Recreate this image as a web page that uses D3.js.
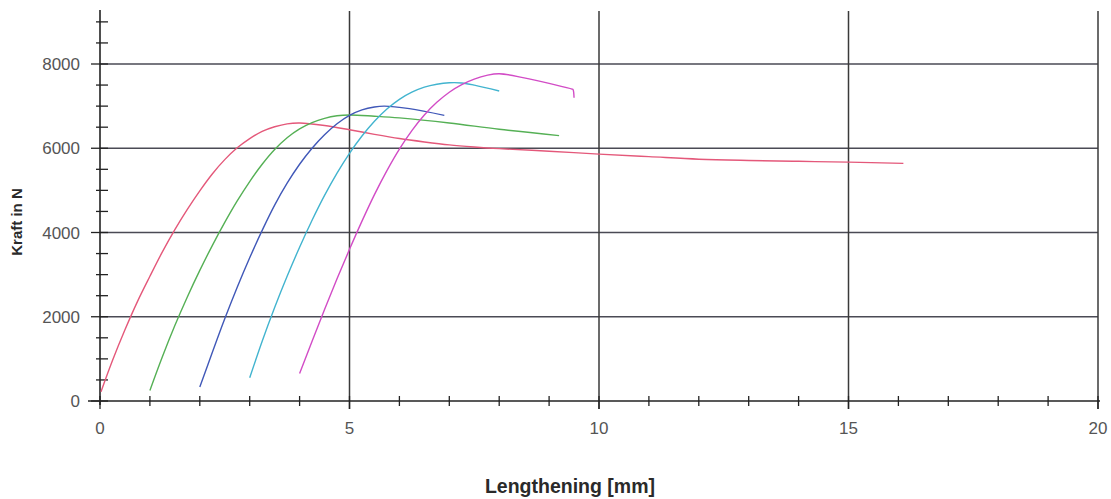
<!DOCTYPE html>
<html><head><meta charset="utf-8">
<script src="https://cdn.jsdelivr.net/npm/d3@7"></script>
<style>body{margin:0;background:#fff;}svg{display:block;}</style>
</head><body>
<svg id="c" width="1111" height="499"></svg>
<script>
const xTicks = [0, 5, 10, 15, 20];
const yTicks = [0, 2000, 4000, 6000, 8000];
const seriesNames = ["red", "green", "blue", "cyan", "magenta"];
const redX = [0.02, 0.25, 0.5, 0.75, 1.0, 1.25, 1.5, 1.75, 2.0, 2.25, 2.5, 2.75, 3.0, 3.25, 3.5, 3.75, 4.0, 4.5, 5, 5.5, 6, 6.5, 7, 7.5, 8, 9, 10, 11, 12, 13, 14, 15, 16.1];
const redY = [220, 960, 1690, 2360, 2960, 3540, 4070, 4550, 4990, 5390, 5730, 6010, 6230, 6400, 6510, 6580, 6600, 6540, 6440, 6330, 6230, 6150, 6080, 6030, 5990, 5930, 5860, 5800, 5740, 5710, 5690, 5670, 5640];
const greenX = [1.0, 1.25, 1.5, 1.75, 2.0, 2.25, 2.5, 2.75, 3.0, 3.25, 3.5, 3.75, 4.0, 4.25, 4.5, 4.75, 5.0, 5.5, 6, 7, 8, 9.2];
const greenY = [250, 1050, 1790, 2470, 3100, 3690, 4240, 4750, 5210, 5620, 5970, 6250, 6460, 6610, 6710, 6770, 6790, 6760, 6720, 6600, 6450, 6300];
const blueX = [2.0, 2.25, 2.5, 2.75, 3.0, 3.25, 3.5, 3.75, 4.0, 4.25, 4.5, 4.75, 5.0, 5.25, 5.5, 5.7, 6.2, 6.9];
const blueY = [330, 1150, 1950, 2700, 3400, 4050, 4650, 5170, 5620, 6000, 6320, 6580, 6780, 6910, 6980, 7000, 6940, 6780];
const cyanX = [3.0, 3.25, 3.5, 3.75, 4.0, 4.25, 4.5, 4.75, 5.0, 5.25, 5.5, 5.75, 6.0, 6.25, 6.5, 6.75, 7.0, 7.25, 7.5, 8.0];
const cyanY = [550, 1420, 2220, 2960, 3650, 4290, 4880, 5410, 5880, 6290, 6640, 6930, 7160, 7330, 7450, 7520, 7555, 7550, 7500, 7360];
const magentaX = [4.0, 4.25, 4.5, 4.75, 5.0, 5.25, 5.5, 5.75, 6.0, 6.25, 6.5, 6.75, 7.0, 7.25, 7.5, 7.75, 8.0, 8.5, 9.0, 9.46, 9.48, 9.5];
const magentaY = [650, 1420, 2170, 2900, 3600, 4270, 4900, 5470, 5980, 6420, 6790, 7090, 7330, 7510, 7640, 7730, 7770, 7670, 7540, 7405, 7390, 7200];

const colors = {red:"#e4587a", green:"#55b055", blue:"#4058b8", cyan:"#42b4cf", magenta:"#d24cc6"};
const seriesData = {
  red: redX.map((x,i)=>[x, redY[i]]),
  green: greenX.map((x,i)=>[x, greenY[i]]),
  blue: blueX.map((x,i)=>[x, blueY[i]]),
  cyan: cyanX.map((x,i)=>[x, cyanY[i]]),
  magenta: magentaX.map((x,i)=>[x, magentaY[i]])
};

const svg = d3.select("#c");
const x = d3.scaleLinear().domain([0, 20]).range([100, 1098]);
const y = d3.scaleLinear().domain([0, 8000]).range([401, 64]);
const font = "Arial, 'Liberation Sans', sans-serif";
const gridCol = "#3a3a3a";

// horizontal grid
svg.append("g").selectAll("line").data(yTicks.filter(d=>d>0)).join("line")
  .attr("x1", x(0)).attr("x2", x(20)).attr("y1", d=>y(d)).attr("y2", d=>y(d))
  .attr("stroke", "#4a4a55").attr("stroke-width", 1.3);
// vertical grid
svg.append("g").selectAll("line").data(xTicks.filter(d=>d>0)).join("line")
  .attr("x1", d=>x(d)).attr("x2", d=>x(d)).attr("y1", 11).attr("y2", y(0)+8)
  .attr("stroke", gridCol).attr("stroke-width", 1.5);

// y axis line + ticks
svg.append("line").attr("x1", x(0)).attr("x2", x(0)).attr("y1", 10).attr("y2", y(0)+4)
  .attr("stroke", "#222").attr("stroke-width", 1.6);
const yMinor = d3.range(0, 9001, 500);
svg.append("g").selectAll("line").data(yMinor).join("line")
  .attr("x1", d => d % 2000 === 0 && d <= 8000 ? x(0)-9 : x(0)-4)
  .attr("x2", x(0)+8)
  .attr("y1", d=>y(d)).attr("y2", d=>y(d))
  .attr("stroke", "#222").attr("stroke-width", 1.3);

// x axis line + ticks
svg.append("line").attr("x1", x(0)-12).attr("x2", x(20)+2).attr("y1", y(0)).attr("y2", y(0))
  .attr("stroke", "#222").attr("stroke-width", 1.6);
svg.append("g").selectAll("line").data(d3.range(0, 21, 1)).join("line")
  .attr("x1", d=>x(d)).attr("x2", d=>x(d))
  .attr("y1", y(0)-5).attr("y2", d => d % 5 === 0 ? y(0)+8 : y(0)+5)
  .attr("stroke", "#222").attr("stroke-width", 1.3);

// tick labels
svg.append("g").selectAll("text").data(yTicks).join("text")
  .attr("x", 80).attr("y", d=>y(d)+6).attr("text-anchor", "end")
  .attr("font-family", font).attr("font-size", 17).attr("fill", "#555")
  .text(d=>d);
svg.append("g").selectAll("text").data(xTicks).join("text")
  .attr("x", d=>x(d)).attr("y", 434).attr("text-anchor", "middle")
  .attr("font-family", font).attr("font-size", 17).attr("fill", "#555")
  .text(d=>d);

// axis titles
svg.append("text").attr("x", 570).attr("y", 493).attr("text-anchor", "middle")
  .attr("font-family", font).attr("font-size", 19.5).attr("font-weight", "bold").attr("fill", "#2a2a2a")
  .text("Lengthening [mm]");
svg.append("text").attr("transform", "translate(22,222) rotate(-90)").attr("text-anchor", "middle")
  .attr("font-family", font).attr("font-size", 15).attr("font-weight", "bold").attr("fill", "#2a2a2a")
  .text("Kraft in N");

// curves
const line = d3.line().x(d=>x(d[0])).y(d=>y(d[1])).curve(d3.curveCatmullRom.alpha(0.5));
svg.append("g").selectAll("path").data(seriesNames).join("path")
  .attr("d", n => line(seriesData[n]))
  .attr("fill", "none").attr("stroke", n=>colors[n]).attr("stroke-width", 1.4);
</script>
</body></html>
